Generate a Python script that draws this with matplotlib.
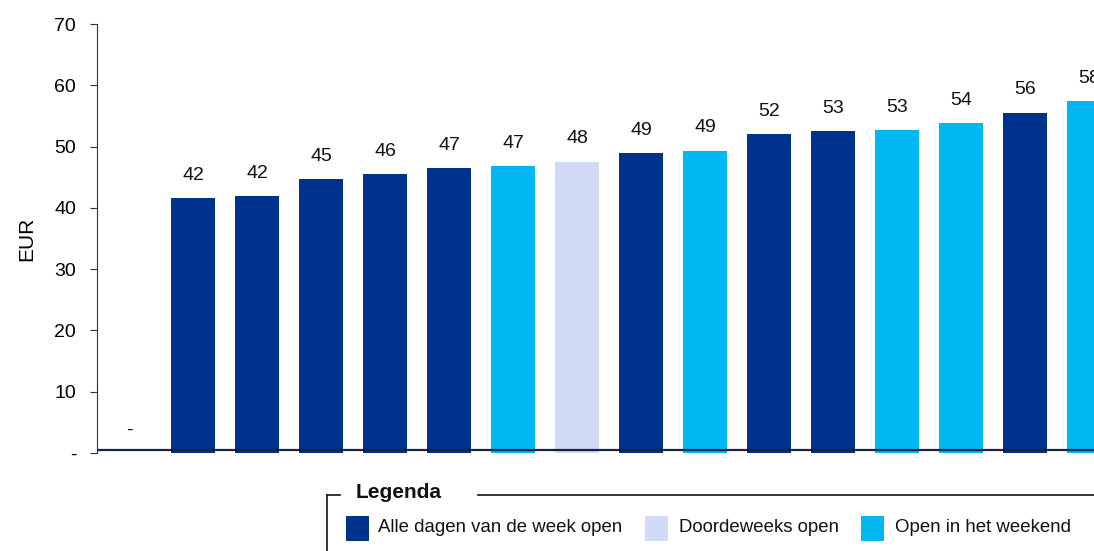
import matplotlib
matplotlib.use("Agg")
import matplotlib.pyplot as plt
from matplotlib.patches import Rectangle
from matplotlib.lines import Line2D

# bar values (EUR), first category has no value
values = [0, 41.6, 41.9, 44.7, 45.5, 46.5, 46.8, 47.5, 48.9, 49.3,
          52.0, 52.5, 52.7, 53.8, 55.5, 57.4]
labels = ["-", "42", "42", "45", "46", "47", "47", "48", "49", "49",
          "52", "53", "53", "54", "56", "58"]
# opening type per bar: A = all days, D = weekdays, W = weekend
types = ["A", "A", "A", "A", "A", "A", "W", "D", "A", "W",
         "A", "A", "W", "W", "A", "W"]
legend_names = {"A": "Alle dagen van de week open",
                "D": "Doordeweeks open",
                "W": "Open in het weekend"}

NAVY = "#00338D"; PALE = "#D1DBF7"; SKY = "#00B8F4"
COLORS = {"A": NAVY, "D": PALE, "W": SKY}
plt.rcParams.update({"font.family": "Liberation Sans", "text.color": "#111111"})

fig = plt.figure(figsize=(10.94, 5.51), dpi=100)
ax = fig.add_axes([0.0887, 0.178, 0.9113, 0.7784])

x = list(range(len(values)))
ax.bar(x, values, width=0.69, color=[COLORS[t] for t in types],
       linewidth=0, zorder=2)
for xi, v, lab in zip(x, values, labels):
    ax.annotate(lab, (xi, v), xytext=(0, 16.5), textcoords="offset points",
                ha="center", va="center", fontsize=14, color="#111111")
ax.axhline(0.45, color="#15233B", lw=1.6, zorder=3)

ax.set_xlim(-0.5, 15.08)
ax.set_ylim(0, 70)
ax.set_yticks(range(0, 71, 10))
ax.set_yticklabels(["-"] + [str(v) for v in range(10, 71, 10)], fontsize=14)
ax.set_xticks([])
ax.tick_params(axis="y", length=5, width=0.8, color="#333333", pad=10)
ax.set_ylabel("EUR", fontsize=15, labelpad=13)
for s in ["top", "right", "bottom"]:
    ax.spines[s].set_visible(False)
ax.spines["left"].set_color("#333333")
ax.spines["left"].set_linewidth(0.8)

# legend frame
W, H = 1094, 551
def fx(px): return px / W
def fy(py): return 1 - py / H
fig.add_artist(Line2D([fx(327), fx(327)], [fy(495), 0], color="#111111", lw=1.2))
fig.add_artist(Line2D([fx(327), fx(340)], [fy(495), fy(495)], color="#111111", lw=1.2))
fig.add_artist(Line2D([fx(478), 1.0], [fy(495), fy(495)], color="#111111", lw=1.2))
fig.text(fx(356), fy(492), "Legenda", fontsize=15, fontweight="bold", va="center")
for key, px0, tx in [("A", 346, 378), ("D", 645, 679), ("W", 861, 895)]:
    fig.add_artist(Rectangle((fx(px0), fy(541)), fx(23), fy(516) - fy(541),
                             facecolor=COLORS[key], edgecolor="none"))
    fig.text(fx(tx), fy(528), legend_names[key], fontsize=13.4, va="center")

fig.savefig("out.png", dpi=100, facecolor="white")
